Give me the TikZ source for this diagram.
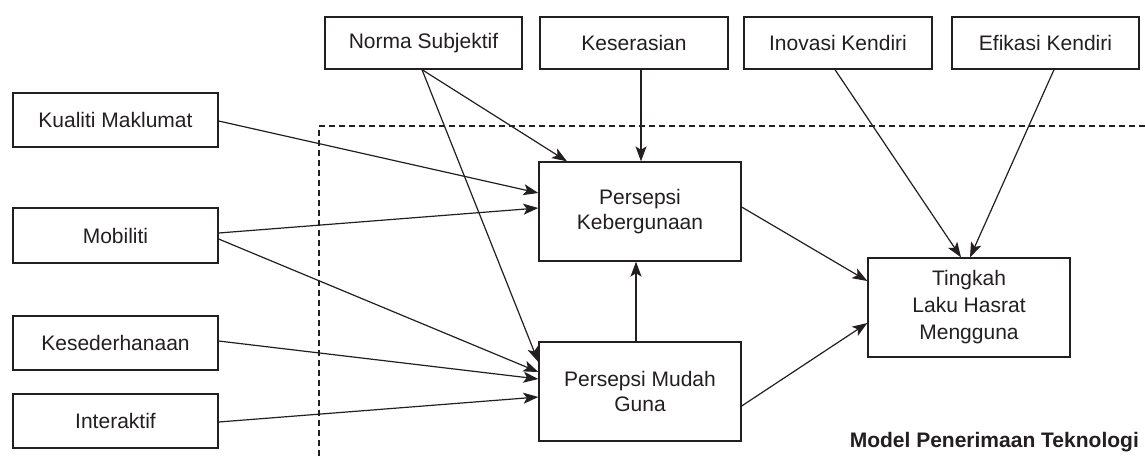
\documentclass[tikz,border=0pt]{standalone}
\usepackage{fontspec}
\setmainfont{Liberation Sans}
\usetikzlibrary{arrows.meta}
\definecolor{ink}{HTML}{231F20}
\tikzset{
  box/.style={draw=ink, line width=1.3pt, rectangle, inner sep=0pt, align=center,
              font=\fontsize{21}{25}\selectfont, text=ink},
  conn/.style={draw=ink, line width=1.2pt, -{Stealth[length=15pt,width=11pt,inset=3.5pt]}},
  border/.style={draw=ink, line width=1.1pt, dash pattern=on 6pt off 4pt}
}
\begin{document}
\begin{tikzpicture}[x=1pt,y=-1pt]
\useasboundingbox (0,0) rectangle (1145,459);
\fill[white] (0,0) rectangle (1145,459);

% dashed boundary
\coordinate (dA) at (1145,126);
\coordinate (dB) at (319,126);
\coordinate (dC) at (319,459);
\draw[border] (dA) -- (dB) -- (dC);

% top row
\node[box, minimum width=197pt, minimum height=52pt] (norma) at (423.5,43) {Norma Subjektif};
\node[box, minimum width=188pt, minimum height=52pt] (keser) at (634,43) {Keserasian};
\node[box, minimum width=188pt, minimum height=52pt] (inov) at (838,43) {Inovasi Kendiri};
\node[box, minimum width=187pt, minimum height=52pt] (efik) at (1045.5,43) {Efikasi Kendiri};

% left column
\node[box, minimum width=205pt, minimum height=54pt] (kual) at (115.5,120) {Kualiti Maklumat};
\node[box, minimum width=205pt, minimum height=55pt] (mobi) at (115.5,235.5) {Mobiliti};
\node[box, minimum width=205pt, minimum height=54pt] (kesed) at (115.5,343) {Kesederhanaan};
\node[box, minimum width=205pt, minimum height=54pt] (inter) at (115.5,421) {Interaktif};

% core
\node[box, minimum width=202pt, minimum height=99pt] (pk) at (640,211.5) {Persepsi\\Kebergunaan};
\node[box, minimum width=202pt, minimum height=99pt] (pmg) at (640,391.5) {Persepsi Mudah\\Guna};
\node[box, minimum width=202pt, minimum height=99pt, font=\fontsize{21}{27}\selectfont] (ting) at (969,307.5) {Tingkah\\Laku Hasrat\\Mengguna};

% title
\node[anchor=base east, inner sep=0pt, text=ink, font=\fontsize{21}{25}\bfseries] (title) at (1139,447) {Model Penerimaan Teknologi};

% connectors
\draw[conn] ([xshift=-1.5pt]norma.south) -- ([xshift=-73pt]pk.north);
\draw[conn] ([xshift=-1.5pt]norma.south) -- ([yshift=29.5pt]pmg.west);
\draw[conn] ([xshift=7pt]keser.south) -- ([xshift=1pt]pk.north);
\draw[conn] ([xshift=-3pt]inov.south) -- ([xshift=-8pt]ting.north);
\draw[conn] ([xshift=8.5pt]efik.south) -- ([xshift=1pt]ting.north);
\draw[conn] ([yshift=-1pt]kual.east) -- ([yshift=18.5pt]pk.west);
\draw[conn] ([yshift=2.5pt]mobi.east) -- ([yshift=3.5pt]pk.west);
\draw[conn] ([yshift=-3.5pt]mobi.east) -- ([yshift=19.5pt]pmg.west);
\draw[conn] ([yshift=2pt]kesed.east) -- ([yshift=12.5pt]pmg.west);
\draw[conn] ([yshift=-1pt]inter.east) -- ([yshift=-5.5pt]pmg.west);
\draw[conn] ([xshift=-4pt]pmg.north) -- ([xshift=-4pt]pk.south);
\draw[conn] ([yshift=4.5pt]pk.east) -- ([yshift=26.5pt]ting.west);
\draw[conn] ([yshift=-14.5pt]pmg.east) -- ([yshift=-15.5pt]ting.west);
\end{tikzpicture}
\end{document}
